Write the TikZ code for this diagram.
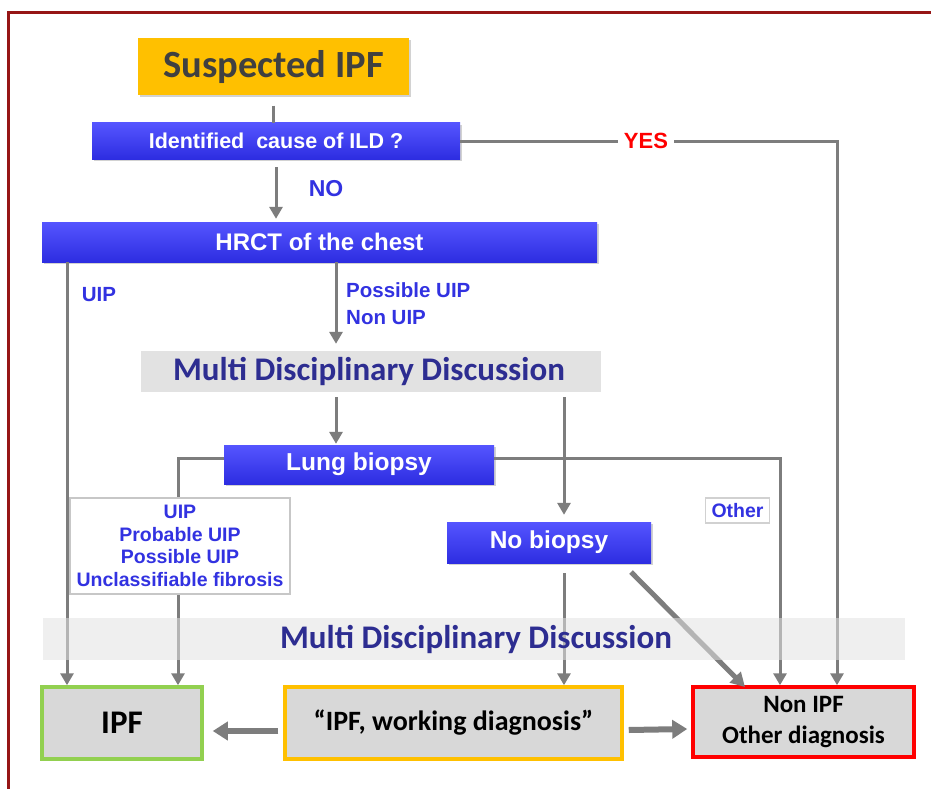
\documentclass[tikz,border=0pt]{standalone}
\usepackage{fontspec}
\setmainfont{Liberation Sans}
\newfontfamily\calfont{Carlito}
\usetikzlibrary{arrows.meta,shadows}
\definecolor{framered}{RGB}{150,22,22}
\definecolor{boxbluetop}{RGB}{85,85,255}
\definecolor{boxbluebot}{RGB}{45,45,225}
\definecolor{gold}{RGB}{255,192,0}
\definecolor{linegray}{RGB}{125,125,125}
\definecolor{bandgray}{RGB}{226,226,226}
\definecolor{cellgray}{RGB}{216,216,216}
\definecolor{labelblue}{RGB}{50,50,225}
\definecolor{navy}{RGB}{45,45,145}
\definecolor{ipfgreen}{RGB}{146,208,80}
\definecolor{textdark}{RGB}{64,64,64}
\tikzset{
  bluebox/.style={rectangle, inner sep=0pt, top color=boxbluetop, bottom color=boxbluebot,
    text=white, font=\bfseries, drop shadow={opacity=0.35, shadow xshift=2pt, shadow yshift=-2pt}},
  band/.style={rectangle, inner sep=0pt, fill=bandgray},
  bandtext/.style={text=navy, font=\calfont\bfseries\fontsize{33}{36}\selectfont},
  lbl/.style={text=labelblue, font=\bfseries\fontsize{20.5}{23}\selectfont, inner sep=1pt},
  result/.style={rectangle, inner sep=0pt, fill=cellgray, line width=3.5pt, text=black,
    font=\calfont\bfseries},
  gline/.style={draw=linegray, line width=3pt},
  garrow/.style={gline, -{Triangle[length=12pt,width=13pt]}},
  bigarrow/.style={draw=linegray, line width=6pt, -{Triangle[length=15pt,width=18pt]}},
}
\begin{document}
\begin{tikzpicture}[x=1pt,y=-1pt]
\useasboundingbox (0,0) rectangle (931,789);
\fill[white] (0,0) rectangle (931,789);
% frame
\draw[framered, line width=3pt] (8,789) -- (8,13) -- (931,13);

% nodes (boxes)
\node[rectangle, inner sep=0pt, fill=gold, minimum width=271pt, minimum height=57pt,
  text=textdark, font=\calfont\bfseries\fontsize{38.5}{42}\selectfont,
  drop shadow={opacity=0.35, shadow xshift=2pt, shadow yshift=-2pt}]
  (susp) at (273.5,67) {Suspected IPF};
\node[bluebox, minimum width=368pt, minimum height=36pt, font=\bfseries\fontsize{21.5}{24}\selectfont]
  (ident) at (276,141) {Identified\ \ cause of ILD ?};
\node[bluebox, minimum width=555pt, minimum height=40pt, font=\bfseries\fontsize{24}{27}\selectfont]
  (hrct) at (319.5,242) {HRCT of the chest};
\node[band, minimum width=460pt, minimum height=41pt] (mdd1) at (371,371.5) {};
\node[bandtext] (mdd1t) at (369,371.5) {Multi Disciplinary Discussion};
\node[bluebox, minimum width=270pt, minimum height=39pt, font=\bfseries\fontsize{24.5}{27}\selectfont]
  (lung) at (359,464.5) {Lung biopsy};
\node[bluebox, minimum width=204pt, minimum height=41pt, font=\bfseries\fontsize{24.5}{27}\selectfont]
  (nobiopsy) at (549,542.5) {No biopsy};

% result boxes
\node[result, draw=ipfgreen, minimum width=160pt, minimum height=72pt,
  font=\calfont\bfseries\fontsize{33}{36}\selectfont] (ipf) at (122,723) {IPF};
\node[result, draw=gold, minimum width=337pt, minimum height=72pt,
  font=\calfont\bfseries\fontsize{28}{32}\selectfont] (work) at (453.5,723) {“IPF, working diagnosis”};
\node[result, draw=red, minimum width=221pt, minimum height=70pt, align=center,
  font=\calfont\bfseries\fontsize{25}{31}\selectfont] (nonipf) at (803.5,722) {Non IPF\\Other diagnosis};

% connectors
\coordinate (uipx) at (67,300);
\coordinate (lungl) at (178,458.5);
\coordinate (lungr) at (780,458.5);
\coordinate (yesc) at (837,141);
\coordinate (d1) at (631,572);
\coordinate (d2) at (745,687);
\draw[gline] ([yshift=-10pt]susp.south) -- (ident.north -| susp.south);
\draw[garrow] ([yshift=-8pt]ident.south) -- ([yshift=3pt]ident.south |- hrct.north);
\draw[garrow] (ident.east) -- (yesc) -- (yesc |- nonipf.north);
\draw[garrow] (hrct.south -| uipx) -- (uipx |- ipf.north);
\draw[garrow] (hrct.south -| 336,0) -- ([yshift=7pt]mdd1.north -| 336,0);
\draw[garrow] ([yshift=-5pt]mdd1.south -| 336,0) -- ([yshift=1pt]lung.north -| 336,0);
\draw[garrow] ([yshift=-5pt]mdd1.south -| 564,0) -- ([yshift=7pt]nobiopsy.north -| 564,0);
\draw[garrow] (lung.west |- lungl) -- (lungl) -- (lungl |- ipf.north);
\draw[garrow] (lung.east |- lungr) -- (lungr) -- (lungr |- nonipf.north);
\draw[garrow] ([yshift=-10pt]nobiopsy.south -| 564,0) -- (work.north -| 564,0);
\draw[draw=linegray, line width=5pt, -{Triangle[length=14pt,width=15pt]}] (d1) -- (d2);

% band 2 over lines
\fill[bandgray, opacity=0.55] (43,618) rectangle (905,660);
\node[bandtext] (mdd2) at (476,639) {Multi Disciplinary Discussion};

% labels
\node[fill=white, text=red, font=\bfseries\fontsize{22}{24}\selectfont, inner xsep=6pt, inner ysep=1pt]
  (yes) at (646,141) {YES};
\node[lbl, font=\bfseries\fontsize{23}{25}\selectfont] (no) at (326,189) {NO};
\node[lbl] (uip) at (99,295) {UIP};
\node[lbl, anchor=west, align=left, font=\bfseries\fontsize{20.5}{27}\selectfont] (poss) at (345,303.5) {Possible UIP\\Non UIP};
\node[rectangle, fill=white, draw=black!22, line width=1.5pt, minimum width=220pt, minimum height=96pt,
  inner sep=0pt, align=center, text=labelblue, font=\bfseries\fontsize{19.5}{22.5}\selectfont]
  (list) at (180,546) {UIP\\Probable UIP\\Possible UIP\\Unclassifiable fibrosis};
\node[rectangle, fill=white, draw=black!18, line width=1.5pt, minimum width=64pt, minimum height=25pt,
  inner sep=0pt, text=labelblue, font=\bfseries\fontsize{19.5}{22}\selectfont]
  (other) at (737.5,510.5) {Other};

\draw[bigarrow] ([yshift=-8pt,xshift=-5pt]work.west) -- ([yshift=-8pt,xshift=9pt]ipf.east);
\draw[bigarrow] ([yshift=-7pt,xshift=5pt]work.east) -- ([yshift=-7pt,xshift=-4pt]nonipf.west);
\end{tikzpicture}
\end{document}
